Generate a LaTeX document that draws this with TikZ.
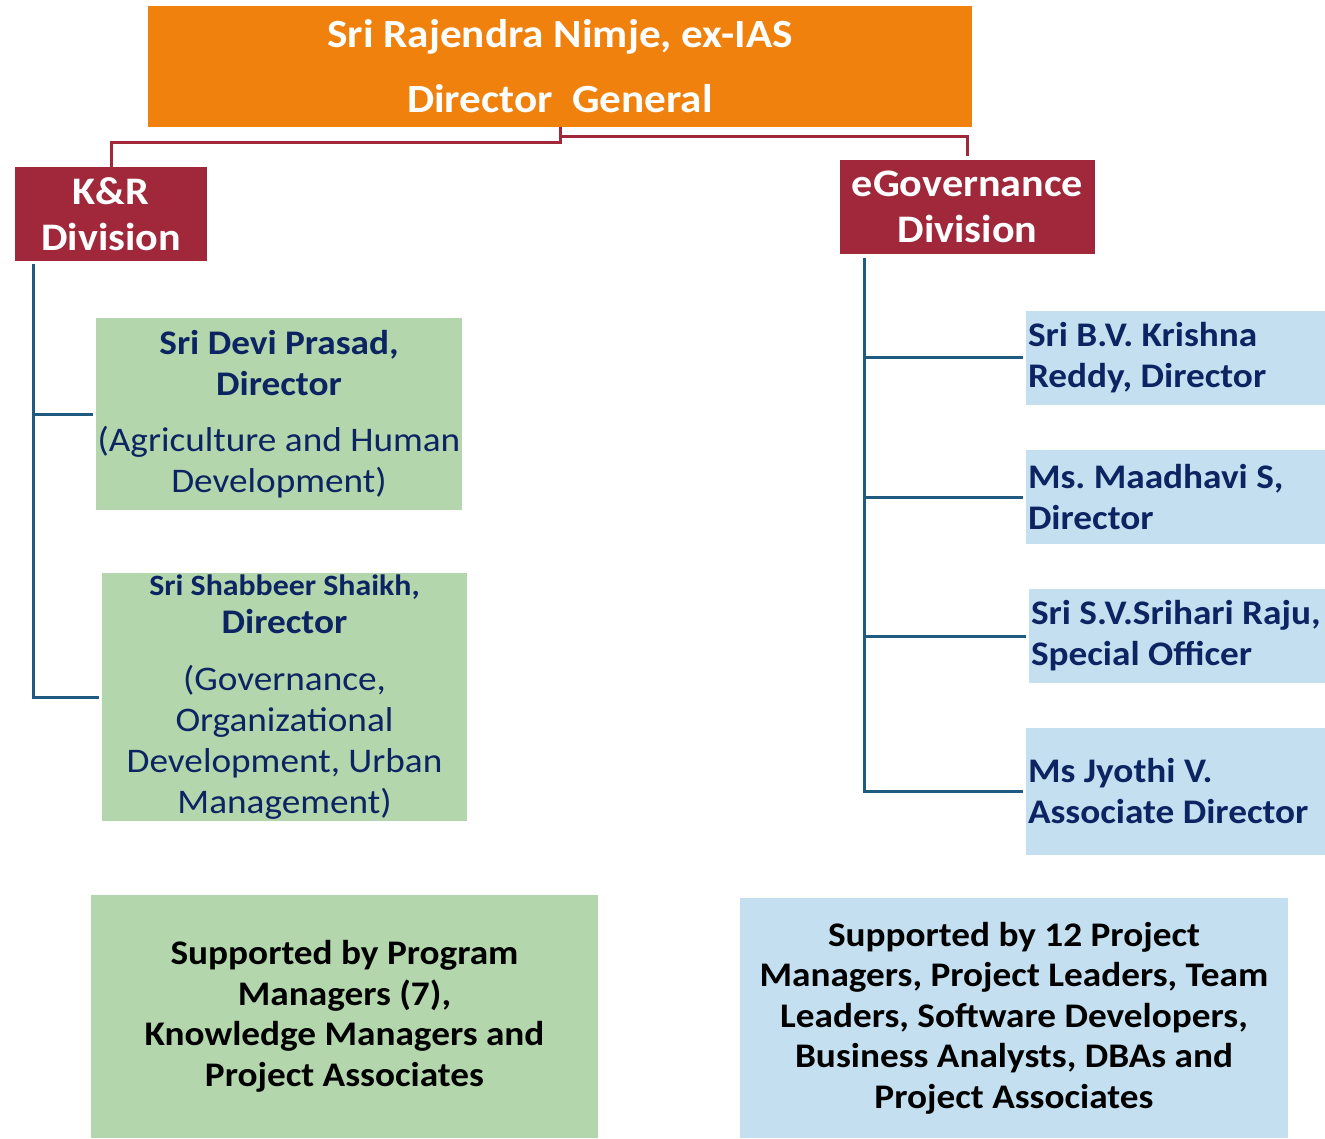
\documentclass[tikz,border=0pt]{standalone}
\usepackage{fontspec}
\setmainfont{Carlito}[FakeStretch=1.08]
\usetikzlibrary{positioning}

\definecolor{dgorange}{HTML}{F0810C}
\definecolor{divred}{HTML}{A0283A}
\definecolor{namenavy}{HTML}{0C2461}
\definecolor{kgreen}{HTML}{B3D6AD}
\definecolor{eblue}{HTML}{C4E0F0}
\definecolor{trunkblue}{HTML}{1F5A80}

\begin{document}
\begin{tikzpicture}[x=1pt,y=-1pt,inner sep=0pt,
                    head node/.style={rectangle,fill=dgorange,text=white,align=center,
                      minimum width=824pt,minimum height=121pt,
                      font={\fontsize{40}{65}\selectfont\bfseries}},
                    div node/.style={rectangle,fill=divred,text=white,align=center,
                      minimum height=94pt,font={\fontsize{39}{46}\selectfont\bfseries}},
                    green node/.style={rectangle,fill=kgreen,text=namenavy,align=center,
                      font={\fontsize{34.5}{41}\selectfont}},
                    blue node/.style={rectangle,fill=eblue,text=namenavy,align=flush left,
                      minimum width=299pt,inner xsep=2pt,text width=295pt,
                      font={\fontsize{34.5}{41}\selectfont\bfseries}},
                    note node/.style={rectangle,text=black,align=center,
                      font={\fontsize{34.5}{40.5}\selectfont\bfseries}},
                    red link/.style={draw=divred,line width=3pt},
                    blue link/.style={draw=trunkblue,line width=3pt,shorten >=3pt}]

  \useasboundingbox (0,0) rectangle (1325,1139);

  % top and the two divisions
  \node[head node] (dg) at (560,66.5) {Sri Rajendra Nimje, ex-IAS\\Director\ \ General};
  \node[div node,minimum width=192pt] (kr) at (111,214) {K\&R\\Division};
  \node[div node,minimum width=255pt] (eg) at (967.5,207) {eGovernance\\Division};

  \coordinate (jl) at (560,143);
  \coordinate (jr) at (560,137);
  \draw[red link] (dg.south) -- (jl) -| (kr.north);
  \draw[red link,shorten >=4pt] (jr) -| (eg.north);

  % K&R directors
  \node[green node,minimum width=366pt,minimum height=192pt] (devi) at (279,414)
    {\textbf{Sri Devi Prasad,}\\\textbf{Director}\\[15pt](Agriculture and Human\\Development)};
  \node[green node,minimum width=365pt,minimum height=248pt] (shab) at (284.5,697)
    {\textbf{\fontsize{29.5}{41}\selectfont Sri Shabbeer Shaikh,}\\[-3pt]\textbf{Director}\\[16pt](Governance,\\Organizational\\Development, Urban\\Management)};

  \coordinate (ltop) at (33,264);
  \draw[blue link] (ltop) |- (shab.west);
  \draw[blue link] (ltop |- devi.west) -- (devi.west);

  % eGovernance directors
  \node[blue node,minimum height=94pt] (bvk) at (1175.5,358) {\mbox{Sri B.V. Krishna}\\\mbox{Reddy, Director}};
  \node[blue node,minimum height=94pt] (maad) at (1175.5,497) {\mbox{Ms.\ Maadhavi S,}\\\mbox{Director}};
  \node[blue node,minimum height=94pt,minimum width=296pt,text width=292pt] (sri) at (1177,636) {\mbox{Sri S.V.Srihari Raju,}\\\mbox{Special Officer}};
  \node[blue node,minimum height=127pt] (jyo) at (1175.5,791.5) {\mbox{Ms Jyothi V.}\\\mbox{Associate Director}};

  \coordinate (rtop) at (864,258);
  \draw[blue link] (rtop) |- (jyo.west);
  \foreach \n in {bvk,maad,sri}
    \draw[blue link] (rtop |- \n.west) -- (\n.west);

  % support staff
  \node[note node,fill=kgreen,minimum width=507pt,minimum height=243pt] (kstaff) at (344.5,1016.5)
    {Supported by Program\\Managers (7),\\Knowledge Managers and\\Project Associates};
  \node[note node,fill=eblue,minimum width=548pt,minimum height=240pt] (estaff) at (1014,1018)
    {Supported by 12 Project\\Managers, Project Leaders, Team\\Leaders, Software Developers,\\Business Analysts, DBAs and\\Project Associates};
\end{tikzpicture}
\end{document}
